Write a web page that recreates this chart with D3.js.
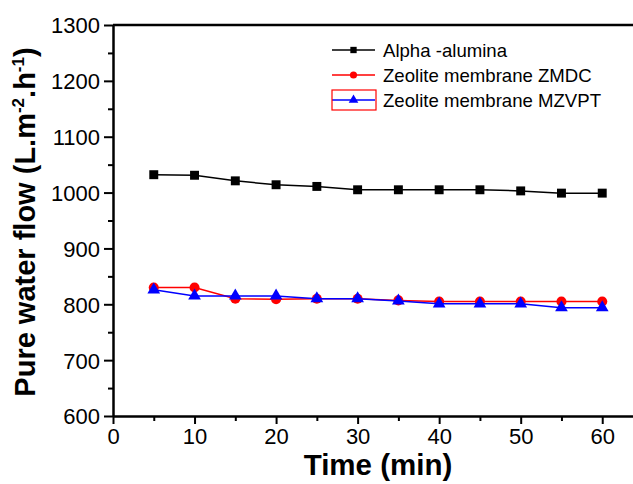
<!DOCTYPE html>
<html>
<head>
<meta charset="utf-8">
<script src="https://cdn.jsdelivr.net/npm/d3@7"></script>
<style>
    body { margin: 0; background: #fff; }
    svg { display: block; font-family: "Liberation Sans", Arial, sans-serif; }
</style>
</head>
<body>
<div id="chart"></div>
<script>
// Data
const times = [5, 10, 15, 20, 25, 30, 35, 40, 45, 50, 55, 60];
const alphaAlumina = [1032, 1031, 1021, 1014, 1011, 1005, 1005, 1005, 1005, 1003, 999, 999];
const zeoliteZMDC = [830, 830, 810, 809, 810, 810, 807, 805, 805, 805, 805, 805];
const zeoliteMZVPT = [826, 815, 815, 815, 810, 810, 806, 801, 801, 801, 794, 794];
const seriesNames = ['Alpha -alumina', 'Zeolite membrane ZMDC', 'Zeolite membrane MZVPT'];
const xTicks = [0, 10, 20, 30, 40, 50, 60];
const xMinorTicks = [5, 15, 25, 35, 45, 55];
const yTicks = [600, 700, 800, 900, 1000, 1100, 1200, 1300];
const yMinorTicks = [650, 750, 850, 950, 1050, 1150, 1250];

// Config
const width = 633, height = 484;
const plot = { left: 113, right: 643, top: 25, bottom: 416 };

const series = [
    { name: seriesNames[0], values: alphaAlumina, color: '#000000', symbol: d3.symbolSquare, size: 80, legendSize: 40 },
    { name: seriesNames[1], values: zeoliteZMDC, color: '#ff0000', symbol: d3.symbolCircle, size: 80, legendSize: 40 },
    { name: seriesNames[2], values: zeoliteMZVPT, color: '#0000ff', symbol: d3.symbolTriangle, size: 70, legendSize: 40 }
];

const svg = d3.select('#chart')
    .append('svg')
    .attr('width', width)
    .attr('height', height);

const x = d3.scaleLinear().domain([0, 65]).range([plot.left, plot.right]);
const y = d3.scaleLinear().domain([600, 1300]).range([plot.bottom, plot.top]);

// Frame (top and right, right side falls off the canvas)
svg.append('path')
    .attr('d', `M${plot.left},${plot.top}H${plot.right}V${plot.bottom}`)
    .attr('fill', 'none')
    .attr('stroke', '#000')
    .attr('stroke-width', 2.5);

// Minor ticks
svg.append('g')
    .attr('transform', `translate(0,${plot.bottom})`)
    .call(d3.axisBottom(x).tickValues(xMinorTicks).tickSize(5).tickFormat(''))
    .call(g => g.select('.domain').remove())
    .call(g => g.selectAll('line').attr('stroke-width', 2));

svg.append('g')
    .attr('transform', `translate(${plot.left},0)`)
    .call(d3.axisLeft(y).tickValues(yMinorTicks).tickSize(5).tickFormat(''))
    .call(g => g.select('.domain').remove())
    .call(g => g.selectAll('line').attr('stroke-width', 2));

// Major axes
const xAxis = svg.append('g')
    .attr('transform', `translate(0,${plot.bottom})`)
    .call(d3.axisBottom(x).tickValues(xTicks).tickFormat(d3.format('d'))
        .tickSize(8).tickSizeOuter(0).tickPadding(4));

const yAxis = svg.append('g')
    .attr('transform', `translate(${plot.left},0)`)
    .call(d3.axisLeft(y).tickValues(yTicks).tickFormat(d3.format('d'))
        .tickSize(9).tickSizeOuter(0).tickPadding(4));

[xAxis, yAxis].forEach(g => {
    g.select('.domain').attr('stroke-width', 2.5);
    g.selectAll('.tick line').attr('stroke-width', 2);
    g.selectAll('.tick text')
        .style('font-size', '22px')
        .style('font-family', '"Liberation Sans", Arial, sans-serif')
        .attr('fill', '#000');
});
yAxis.selectAll('.tick text').attr('dy', '0.36em');

// Axis titles
svg.append('text')
    .attr('x', 378)
    .attr('y', 475)
    .attr('text-anchor', 'middle')
    .style('font-size', '29.5px')
    .style('font-weight', 'bold')
    .text('Time (min)');

const yTitle = svg.append('text')
    .attr('transform', 'translate(35,222) rotate(-90)')
    .attr('text-anchor', 'middle')
    .style('font-size', '29px')
    .style('font-weight', 'bold');
yTitle.append('tspan').text('Pure water flow (L.m');
yTitle.append('tspan').attr('dy', -11).style('font-size', '17px').text('-2');
yTitle.append('tspan').attr('dy', 11).text('.h');
yTitle.append('tspan').attr('dy', -11).style('font-size', '17px').text('-1');
yTitle.append('tspan').attr('dy', 11).text(')');

// Lines and markers
const line = d3.line()
    .x(d => x(d[0]))
    .y(d => y(d[1]));

series.forEach(s => {
    const pts = times.map((t, i) => [t, s.values[i]]);

    svg.append('path')
        .datum(pts)
        .attr('d', line)
        .attr('fill', 'none')
        .attr('stroke', s.color)
        .attr('stroke-width', 1.5);

    svg.append('g')
        .selectAll('path')
        .data(pts)
        .enter()
        .append('path')
        .attr('transform', d => `translate(${x(d[0])},${y(d[1])})`)
        .attr('d', d3.symbol().type(s.symbol).size(s.size))
        .attr('fill', s.color);
});

// Legend
const legend = svg.append('g').attr('transform', 'translate(332,50)');
series.forEach((s, i) => {
    const row = legend.append('g').attr('transform', `translate(0,${i * 25})`);
    row.append('line')
        .attr('x1', 0).attr('x2', 43)
        .attr('stroke', s.color)
        .attr('stroke-width', 1.5);
    row.append('path')
        .attr('transform', 'translate(21.5,0)')
        .attr('d', d3.symbol().type(s.symbol).size(s.legendSize))
        .attr('fill', s.color);
    row.append('text')
        .attr('x', 51)
        .attr('y', 6.5)
        .style('font-size', '18.6px')
        .text(s.name);
});

// Red box round the last legend symbol
legend.append('rect')
    .attr('x', 0)
    .attr('y', 2 * 25 - 10)
    .attr('width', 44)
    .attr('height', 20)
    .attr('fill', 'none')
    .attr('stroke', '#ff0000')
    .attr('stroke-width', 1.2);
</script>
</body>
</html>
